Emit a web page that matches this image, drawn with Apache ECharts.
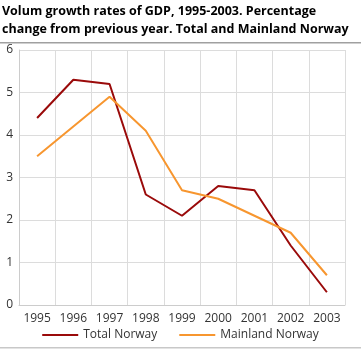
<!DOCTYPE html>
<html><head><meta charset="utf-8">
<script src="https://cdn.jsdelivr.net/npm/echarts@6/dist/echarts.min.js"></script>
<style>html,body{margin:0;padding:0;background:#fff}#c{width:361px;height:349px}</style>
</head><body><div id="c"></div>
<script>
var years = ['1995','1996','1997','1998','1999','2000','2001','2002','2003'];
var totalNorway = [4.4, 5.3, 5.2, 2.6, 2.1, 2.8, 2.7, 1.4, 0.3];
var mainlandNorway = [3.5, 4.2, 4.9, 4.1, 2.7, 2.5, 2.1, 1.7, 0.7];
var yTicks = [0, 1, 2, 3, 4, 5, 6];

var chart = echarts.init(document.getElementById('c'));
var font = '"Open Sans", "Noto Sans", sans-serif';
chart.setOption({
  animation: false,
  graphic: [
    {type:'text', left: 2, top: 2, style:{text:'Volum growth rates of GDP, 1995-2003. Percentage\nchange from previous year. Total and Mainland Norway', font:'bold 12.5px ' + font, fill:'#000', lineHeight: 18}},
    {type:'rect', shape:{x:0,y:42,width:361,height:1.5}, style:{fill:'#a0a0a0'}},
    {type:'rect', shape:{x:0,y:347,width:361,height:1.5}, style:{fill:'#c8c8c8'}}
  ],
  grid: {left: 19, right: 16, top: 50, bottom: 44},
  legend: {
    bottom: 3, left: 'center', itemWidth: 36, itemHeight: 2, itemGap: 22,
    icon: 'rect',
    textStyle: {fontFamily: font, fontSize: 12, color: '#333'},
    data: ['Total Norway', 'Mainland Norway']
  },
  xAxis: {
    type: 'category', data: years, boundaryGap: true,
    axisLine: {lineStyle: {color: '#cccccc'}},
    axisTick: {show: false},
    axisLabel: {fontFamily: font, fontSize: 12, color: '#333', margin: 8, interval: 0},
    splitLine: {show: true, interval: 0, lineStyle: {color: '#dcdcdc'}}
  },
  yAxis: {
    type: 'value', min: yTicks[0], max: yTicks[yTicks.length-1], interval: 1,
    axisLine: {show: true, lineStyle: {color: '#cccccc'}},
    axisTick: {show: false},
    axisLabel: {fontFamily: font, fontSize: 12, color: '#333', margin: 6},
    splitLine: {lineStyle: {color: '#dcdcdc'}}
  },
  series: [
    {name: 'Total Norway', type: 'line', data: totalNorway, symbol: 'none', color: '#9a0a0a', lineStyle: {width: 2}},
    {name: 'Mainland Norway', type: 'line', data: mainlandNorway, symbol: 'none', color: '#f7962f', lineStyle: {width: 2}}
  ]
});
</script></body></html>
